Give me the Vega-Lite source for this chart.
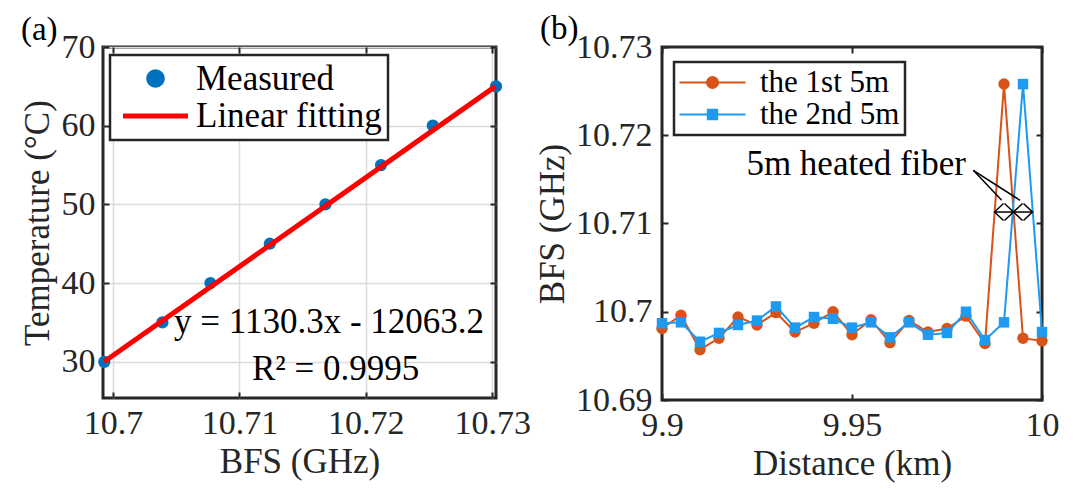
{
  "$schema": "https://vega.github.io/schema/vega-lite/v6.json",
  "background": "white",
  "padding": {"left": 18, "top": 11, "right": 5, "bottom": 5},
  "config": {
    "font": "Liberation Serif",
    "view": {"stroke": "#262626", "strokeWidth": 3},
    "axis": {
      "domain": false, "tickSize": -6, "tickWidth": 2, "tickColor": "#262626",
      "labelColor": "#262626", "titleColor": "#262626",
      "labelFont": "Liberation Serif", "titleFont": "Liberation Serif",
      "labelFontSize": 34, "titleFontSize": 35, "titleFontWeight": "normal",
      "grid": false, "labelFlush": false, "labelOverlap": false
    },
    "text": {"font": "Liberation Serif"}
  },
  "resolve": {"scale": {"color": "independent"}, "legend": {"color": "independent"}},
  "datasets": {
    "measured": [
      {"bfs": 10.6993, "temp": 30, "kind": "Measured"},
      {"bfs": 10.7039, "temp": 35, "kind": "Measured"},
      {"bfs": 10.7077, "temp": 40, "kind": "Measured"},
      {"bfs": 10.7124, "temp": 45, "kind": "Measured"},
      {"bfs": 10.7168, "temp": 50, "kind": "Measured"},
      {"bfs": 10.7212, "temp": 55, "kind": "Measured"},
      {"bfs": 10.7253, "temp": 60, "kind": "Measured"},
      {"bfs": 10.7303, "temp": 65, "kind": "Measured"}
    ],
    "fit": [
      {"bfs": 10.69928, "temp": 30, "kind": "Linear fitting"},
      {"bfs": 10.73025, "temp": 65, "kind": "Linear fitting"}
    ],
    "dist": [
      {"dist": 9.900, "bfs": 10.6981, "series": "the 1st 5m"},
      {"dist": 9.905, "bfs": 10.6996, "series": "the 1st 5m"},
      {"dist": 9.910, "bfs": 10.6957, "series": "the 1st 5m"},
      {"dist": 9.915, "bfs": 10.6970, "series": "the 1st 5m"},
      {"dist": 9.920, "bfs": 10.6994, "series": "the 1st 5m"},
      {"dist": 9.925, "bfs": 10.6985, "series": "the 1st 5m"},
      {"dist": 9.930, "bfs": 10.6999, "series": "the 1st 5m"},
      {"dist": 9.935, "bfs": 10.6977, "series": "the 1st 5m"},
      {"dist": 9.940, "bfs": 10.6987, "series": "the 1st 5m"},
      {"dist": 9.945, "bfs": 10.7000, "series": "the 1st 5m"},
      {"dist": 9.950, "bfs": 10.6974, "series": "the 1st 5m"},
      {"dist": 9.955, "bfs": 10.6991, "series": "the 1st 5m"},
      {"dist": 9.960, "bfs": 10.6965, "series": "the 1st 5m"},
      {"dist": 9.965, "bfs": 10.6990, "series": "the 1st 5m"},
      {"dist": 9.970, "bfs": 10.6977, "series": "the 1st 5m"},
      {"dist": 9.975, "bfs": 10.6981, "series": "the 1st 5m"},
      {"dist": 9.980, "bfs": 10.6995, "series": "the 1st 5m"},
      {"dist": 9.985, "bfs": 10.6964, "series": "the 1st 5m"},
      {"dist": 9.990, "bfs": 10.7258, "series": "the 1st 5m"},
      {"dist": 9.995, "bfs": 10.6970, "series": "the 1st 5m"},
      {"dist": 10.000, "bfs": 10.6967, "series": "the 1st 5m"},
      {"dist": 9.900, "bfs": 10.6987, "series": "the 2nd 5m"},
      {"dist": 9.905, "bfs": 10.6988, "series": "the 2nd 5m"},
      {"dist": 9.910, "bfs": 10.6966, "series": "the 2nd 5m"},
      {"dist": 9.915, "bfs": 10.6976, "series": "the 2nd 5m"},
      {"dist": 9.920, "bfs": 10.6985, "series": "the 2nd 5m"},
      {"dist": 9.925, "bfs": 10.6990, "series": "the 2nd 5m"},
      {"dist": 9.930, "bfs": 10.7006, "series": "the 2nd 5m"},
      {"dist": 9.935, "bfs": 10.6982, "series": "the 2nd 5m"},
      {"dist": 9.940, "bfs": 10.6994, "series": "the 2nd 5m"},
      {"dist": 9.945, "bfs": 10.6992, "series": "the 2nd 5m"},
      {"dist": 9.950, "bfs": 10.6982, "series": "the 2nd 5m"},
      {"dist": 9.955, "bfs": 10.6988, "series": "the 2nd 5m"},
      {"dist": 9.960, "bfs": 10.6971, "series": "the 2nd 5m"},
      {"dist": 9.965, "bfs": 10.6988, "series": "the 2nd 5m"},
      {"dist": 9.970, "bfs": 10.6974, "series": "the 2nd 5m"},
      {"dist": 9.975, "bfs": 10.6976, "series": "the 2nd 5m"},
      {"dist": 9.980, "bfs": 10.7000, "series": "the 2nd 5m"},
      {"dist": 9.985, "bfs": 10.6968, "series": "the 2nd 5m"},
      {"dist": 9.990, "bfs": 10.6988, "series": "the 2nd 5m"},
      {"dist": 9.995, "bfs": 10.7258, "series": "the 2nd 5m"},
      {"dist": 10.000, "bfs": 10.6977, "series": "the 2nd 5m"}
    ],
    "leaders": [
      {"x": 9.98192, "y": 10.71603, "x2": 9.98939, "y2": 10.71263},
      {"x": 9.98192, "y": 10.71603, "x2": 9.99421, "y2": 10.71263}
    ],
    "spans": [
      {"x": 9.9875, "x2": 9.9925, "y": 10.7113},
      {"x": 9.9925, "x2": 9.9975, "y": 10.7113}
    ],
    "heads": [
      {"x": 9.9875, "y": 10.7113, "dir": "left"},
      {"x": 9.9925, "y": 10.7113, "dir": "right"},
      {"x": 9.9925, "y": 10.7113, "dir": "left"},
      {"x": 9.9975, "y": 10.7113, "dir": "right"}
    ]
  },
  "bounds": "flush",
  "spacing": 166,
  "hconcat": [
    {
      "width": 393,
      "height": 351,
      "resolve": {"axis": {"x": "independent", "y": "independent"}},
      "layer": [
        {
          "data": {"name": "measured"},
          "mark": {"type": "point", "filled": true, "size": 150, "opacity": 1},
          "encoding": {
            "x": {"field": "bfs", "type": "quantitative",
              "scale": {"domain": [10.6992, 10.7303], "nice": false, "zero": false},
              "axis": {"orient": "bottom", "values": [10.7, 10.71, 10.72, 10.73], "format": ".2~f",
                "title": "BFS (GHz)", "grid": true, "gridColor": "#dcdcdc", "gridWidth": 1.5,
                "labelPadding": 14, "titlePadding": 4}},
            "y": {"field": "temp", "type": "quantitative",
              "scale": {"domain": [25.4, 70], "nice": false, "zero": false},
              "axis": {"orient": "left", "values": [30, 40, 50, 60, 70],
                "title": "Temperature (°C)", "grid": true, "gridColor": "#dcdcdc", "gridWidth": 1.5,
                "labelPadding": 14, "titlePadding": 6}},
            "color": {"field": "kind", "type": "nominal",
              "scale": {"domain": ["Measured", "Linear fitting"], "range": ["#0072BD", "#FF0000"]},
              "legend": {
                "orient": "none", "legendX": 7, "legendY": 8, "title": null,
                "padding": 6, "labelFontSize": 35, "labelFont": "Liberation Serif", "labelColor": "black",
                "labelOffset": 23, "symbolSize": 196, "symbolStrokeWidth": 5, "symbolOffset": 22, "rowPadding": 1.5,
                "strokeColor": "#262626", "fillColor": "white", "labelLimit": 400,
                "encode": {
                  "symbols": {"update": {
                    "shape": {"signal": "datum.value === 'Measured' ? 'M0.98,0A0.98,0.98,0,1,1,-0.98,0A0.98,0.98,0,1,1,0.98,0Z' : 'M-4.64,0H4.64'"},
                    "size": {"value": 196},
                    "fill": {"signal": "datum.value === 'Measured' ? '#0072BD' : 'transparent'"},
                    "stroke": {"signal": "datum.value === 'Measured' ? 'transparent' : '#FF0000'"},
                    "strokeWidth": {"value": 5},
                    "opacity": {"value": 1}
                  }},
                  "legend": {"update": {"strokeWidth": {"value": 2.5}}}
                }
              }}
          }
        },
        {
          "data": {"name": "fit"},
          "mark": {"type": "line", "strokeWidth": 5},
          "encoding": {
            "x": {"field": "bfs", "type": "quantitative",
              "scale": {"domain": [10.6992, 10.7303], "nice": false, "zero": false},
              "axis": {"orient": "top", "values": [10.7, 10.71, 10.72, 10.73], "labels": false, "title": null, "grid": false}},
            "y": {"field": "temp", "type": "quantitative",
              "scale": {"domain": [25.4, 70], "nice": false, "zero": false},
              "axis": {"orient": "right", "values": [30, 40, 50, 60, 70], "labels": false, "title": null, "grid": false}},
            "color": {"field": "kind", "type": "nominal",
              "legend": {
                "orient": "none", "legendX": 7, "legendY": 8, "title": null,
                "padding": 6, "labelFontSize": 35, "labelFont": "Liberation Serif", "labelColor": "black",
                "labelOffset": 23, "symbolSize": 196, "symbolStrokeWidth": 5, "symbolOffset": 22, "rowPadding": 1.5,
                "strokeColor": "#262626", "fillColor": "white", "labelLimit": 400,
                "encode": {
                  "symbols": {"update": {
                    "shape": {"signal": "datum.value === 'Measured' ? 'M0.98,0A0.98,0.98,0,1,1,-0.98,0A0.98,0.98,0,1,1,0.98,0Z' : 'M-4.64,0H4.64'"},
                    "size": {"value": 196},
                    "fill": {"signal": "datum.value === 'Measured' ? '#0072BD' : 'transparent'"},
                    "stroke": {"signal": "datum.value === 'Measured' ? 'transparent' : '#FF0000'"},
                    "strokeWidth": {"value": 5},
                    "opacity": {"value": 1}
                  }},
                  "legend": {"update": {"strokeWidth": {"value": 2.5}}}
                }
              }}
          }
        },
        {
          "data": {"values": [{}]},
          "mark": {"type": "text", "text": "y = 1130.3x - 12063.2", "fontSize": 35, "align": "left", "baseline": "alphabetic", "color": "black"},
          "encoding": {
            "x": {"datum": 10.70482, "type": "quantitative", "scale": {"domain": [10.6992, 10.7303], "nice": false, "zero": false}, "axis": null},
            "y": {"datum": 33.66, "type": "quantitative", "scale": {"domain": [25.4, 70], "nice": false, "zero": false}, "axis": null}
          }
        },
        {
          "data": {"values": [{}]},
          "mark": {"type": "text", "text": "R² = 0.9995", "fontSize": 35, "align": "left", "baseline": "alphabetic", "color": "black"},
          "encoding": {
            "x": {"datum": 10.71099, "type": "quantitative", "scale": {"domain": [10.6992, 10.7303], "nice": false, "zero": false}, "axis": null},
            "y": {"datum": 27.69, "type": "quantitative", "scale": {"domain": [25.4, 70], "nice": false, "zero": false}, "axis": null}
          }
        },
        {
          "data": {"values": [{}]},
          "mark": {"type": "text", "text": "(a)", "fontSize": 33, "align": "left", "baseline": "alphabetic", "color": "black"},
          "encoding": {
            "x": {"datum": 10.69271, "type": "quantitative", "scale": {"domain": [10.6992, 10.7303], "nice": false, "zero": false}, "axis": null},
            "y": {"datum": 70.89, "type": "quantitative", "scale": {"domain": [25.4, 70], "nice": false, "zero": false}, "axis": null}
          }
        }
      ]
    },
    {
      "width": 380,
      "height": 353,
      "resolve": {"axis": {"x": "independent", "y": "independent"}},
      "layer": [
        {
          "data": {"name": "dist"},
          "transform": [{"filter": "datum.series === 'the 1st 5m'"}],
          "mark": {"type": "line", "strokeWidth": 2},
          "encoding": {
            "x": {"field": "dist", "type": "quantitative",
              "scale": {"domain": [9.9, 10], "nice": false, "zero": false},
              "axis": {"orient": "bottom", "values": [9.9, 9.95, 10], "format": ".2~f",
                "title": "Distance (km)", "labelPadding": 14, "titlePadding": 4}},
            "y": {"field": "bfs", "type": "quantitative",
              "scale": {"domain": [10.69, 10.73], "nice": false, "zero": false},
              "axis": {"orient": "left", "values": [10.69, 10.7, 10.71, 10.72, 10.73], "format": ".2~f",
                "title": "BFS (GHz)", "labelPadding": 16, "titlePadding": 5}},
            "color": {"field": "series", "type": "nominal",
              "scale": {"domain": ["the 1st 5m", "the 2nd 5m"], "range": ["#D95319", "#1E9BF0"]},
              "legend": {
                "orient": "none", "legendX": 12, "legendY": 15, "title": null,
                "padding": 5, "labelFontSize": 31, "labelFont": "Liberation Serif", "labelColor": "black",
                "labelOffset": 32, "symbolSize": 144, "symbolStrokeWidth": 2, "symbolOffset": 18, "rowPadding": 0,
                "strokeColor": "#262626", "fillColor": "white", "labelLimit": 400,
                "encode": {
                  "symbols": {"update": {
                    "shape": {"signal": "datum.value === 'the 1st 5m' ? 'M-5.5,0H5.5M0.92,0A0.92,0.92,0,1,1,-0.92,0A0.92,0.92,0,1,1,0.92,0Z' : 'M-5.5,0H5.5M-0.78,-0.78H0.78V0.78H-0.78Z'"},
                    "size": {"value": 144},
                    "fill": {"signal": "datum.value === 'the 1st 5m' ? '#D95319' : '#1E9BF0'"},
                    "stroke": {"signal": "datum.value === 'the 1st 5m' ? '#D95319' : '#1E9BF0'"},
                    "strokeWidth": {"value": 2},
                    "opacity": {"value": 1}
                  }},
                  "legend": {"update": {"strokeWidth": {"value": 2.5}}}
                }
              }}
          }
        },
        {
          "data": {"name": "dist"},
          "transform": [{"filter": "datum.series === 'the 1st 5m'"}],
          "mark": {"type": "point", "filled": true, "size": 130, "shape": "circle", "opacity": 1},
          "encoding": {
            "x": {"field": "dist", "type": "quantitative",
              "scale": {"domain": [9.9, 10], "nice": false, "zero": false},
              "axis": {"orient": "top", "values": [9.9, 9.95, 10], "labels": false, "title": null}},
            "y": {"field": "bfs", "type": "quantitative",
              "scale": {"domain": [10.69, 10.73], "nice": false, "zero": false},
              "axis": {"orient": "right", "values": [10.69, 10.7, 10.71, 10.72, 10.73], "labels": false, "title": null}},
            "color": {"field": "series", "type": "nominal"}
          }
        },
        {
          "data": {"name": "dist"},
          "transform": [{"filter": "datum.series === 'the 2nd 5m'"}],
          "mark": {"type": "line", "strokeWidth": 2},
          "encoding": {
            "x": {"field": "dist", "type": "quantitative", "scale": {"domain": [9.9, 10], "nice": false, "zero": false}, "axis": null},
            "y": {"field": "bfs", "type": "quantitative", "scale": {"domain": [10.69, 10.73], "nice": false, "zero": false}, "axis": null},
            "color": {"field": "series", "type": "nominal"}
          }
        },
        {
          "data": {"name": "dist"},
          "transform": [{"filter": "datum.series === 'the 2nd 5m'"}],
          "mark": {"type": "point", "filled": true, "size": 110, "shape": "square", "opacity": 1},
          "encoding": {
            "x": {"field": "dist", "type": "quantitative", "scale": {"domain": [9.9, 10], "nice": false, "zero": false}, "axis": null},
            "y": {"field": "bfs", "type": "quantitative", "scale": {"domain": [10.69, 10.73], "nice": false, "zero": false}, "axis": null},
            "color": {"field": "series", "type": "nominal"}
          }
        },
        {
          "data": {"name": "leaders"},
          "mark": {"type": "rule", "color": "black", "strokeWidth": 1.5},
          "encoding": {
            "x": {"field": "x", "type": "quantitative", "scale": {"domain": [9.9, 10], "nice": false, "zero": false}, "axis": null},
            "y": {"field": "y", "type": "quantitative", "scale": {"domain": [10.69, 10.73], "nice": false, "zero": false}, "axis": null},
            "x2": {"field": "x2"},
            "y2": {"field": "y2"}
          }
        },
        {
          "data": {"name": "spans"},
          "mark": {"type": "rule", "color": "black", "strokeWidth": 1.5},
          "encoding": {
            "x": {"field": "x", "type": "quantitative", "scale": {"domain": [9.9, 10], "nice": false, "zero": false}, "axis": null},
            "x2": {"field": "x2"},
            "y": {"field": "y", "type": "quantitative", "scale": {"domain": [10.69, 10.73], "nice": false, "zero": false}, "axis": null}
          }
        },
        {
          "data": {"name": "heads"},
          "mark": {"type": "point", "filled": false, "size": 289, "strokeWidth": 1.5, "color": "black", "opacity": 1},
          "encoding": {
            "x": {"field": "x", "type": "quantitative", "scale": {"domain": [9.9, 10], "nice": false, "zero": false}, "axis": null},
            "y": {"field": "y", "type": "quantitative", "scale": {"domain": [10.69, 10.73], "nice": false, "zero": false}, "axis": null},
            "shape": {"condition": {"test": "datum.dir === 'left'", "value": "M1.06,-1L0,0L1.06,1"}, "value": "M-1.06,-1L0,0L-1.06,1"}
          }
        },
        {
          "data": {"values": [{}]},
          "mark": {"type": "text", "text": "5m heated fiber", "fontSize": 35, "align": "right", "baseline": "alphabetic", "color": "black"},
          "encoding": {
            "x": {"datum": 9.98, "type": "quantitative", "scale": {"domain": [9.9, 10], "nice": false, "zero": false}, "axis": null},
            "y": {"datum": 10.7155, "type": "quantitative", "scale": {"domain": [10.69, 10.73], "nice": false, "zero": false}, "axis": null}
          }
        },
        {
          "data": {"values": [{}]},
          "mark": {"type": "text", "text": "(b)", "fontSize": 33, "align": "left", "baseline": "alphabetic", "color": "black"},
          "encoding": {
            "x": {"datum": 9.86789, "type": "quantitative", "scale": {"domain": [9.9, 10], "nice": false, "zero": false}, "axis": null},
            "y": {"datum": 10.73091, "type": "quantitative", "scale": {"domain": [10.69, 10.73], "nice": false, "zero": false}, "axis": null}
          }
        }
      ]
    }
  ]
}
